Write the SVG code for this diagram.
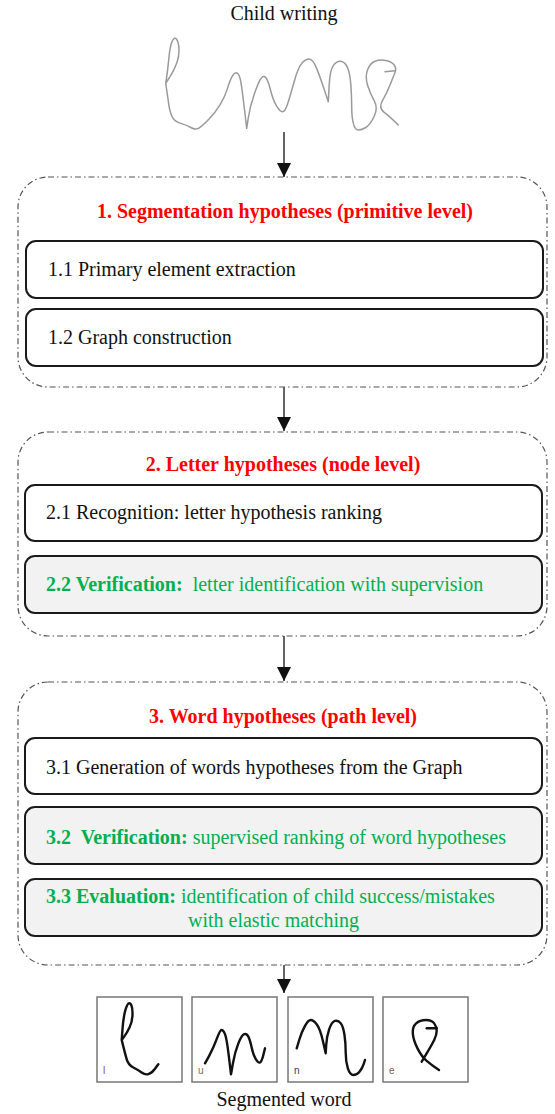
<svg xmlns="http://www.w3.org/2000/svg" width="555" height="1114" viewBox="0 0 555 1114">
<style>
.t{font-family:"Liberation Serif","Times New Roman",serif;font-size:20px;fill:#111}
.title{font-family:"Liberation Serif","Times New Roman",serif;font-size:20px;font-weight:bold;fill:#FF0000}
.g{font-family:"Liberation Serif","Times New Roman",serif;font-size:20px;fill:#00B050}
.gb{font-weight:bold}
.outer{fill:#fff;stroke:#555;stroke-width:1.2;stroke-dasharray:6 3 1.5 3}
.box{fill:#fff;stroke:#1a1a1a;stroke-width:2}
.gbox{fill:#F2F2F2;stroke:#1a1a1a;stroke-width:2}
.ink{fill:none;stroke:#9a9a9a;stroke-width:1.5;stroke-linejoin:round;stroke-linecap:round}
.lk{fill:none;stroke:#111;stroke-width:2.4;stroke-linejoin:round;stroke-linecap:round}
.lbox{fill:#fff;stroke:#777;stroke-width:1.5}
.lab{font-family:"Liberation Sans",Arial,sans-serif;font-size:10px}
.conn{stroke:#111;stroke-width:1.3;fill:none}
</style>
<defs>
<marker id="ah" markerUnits="userSpaceOnUse" markerWidth="14" markerHeight="14" refX="14" refY="7" orient="auto" viewBox="0 0 14 14">
<path d="M0,0 L14,7 L0,14 z" fill="#111"/>
</marker>
</defs>

<g id="child-writing">
<text class="t" x="284" y="20" text-anchor="middle">Child writing</text>
<path class="ink" d="M165.7,83.3 L166.7,76.65 Q167.7,70 168.85,58.35 Q170,46.7 171.65,42.5 Q173.3,38.3 175,38.3 Q176.7,38.3 177.85,41.65 Q179,45 179,50.85 Q179,56.7 177,62.35 Q175,68 172.5,72.35 Q170,76.7 167.85,80 L165.7,83.3 L166.7,90 Q167.7,96.7 168.85,104.85 Q170,113 172.5,117.35 Q175,121.7 180.85,123.35 Q186.7,125 190.85,127.5 Q195,130 198.35,128.35 Q201.7,126.7 208.35,119.85 Q215,113 220,104.85 Q225,96.7 227.5,88.35 Q230,80 232.5,75.85 Q235,71.7 237.5,73.35 Q240,75 241.5,85.85 Q243,96.7 244.85,112.5 L246.7,128.3 L248.35,117.5 Q250,106.7 254,95 Q258,83.3 260.5,79.15 Q263,75 265.5,77.35 Q268,80 270.5,90 Q273,100 276.5,105.85 Q280,111.7 282.5,111.7 Q285,111.7 287.5,104.2 Q290,96.7 294.15,81.7 Q298.3,66.7 302.5,62.5 Q306.7,58.3 310,59.15 Q313.3,60 316.65,68.35 Q320,76.7 324.15,89.2 L328.3,101.7 L329.15,85.85 Q330,70 333.35,65.35 Q336.7,60.7 340.85,61.2 Q345,61.7 347.5,67.5 Q350,73.3 350.85,85 Q351.7,96.7 351.7,106.7 Q351.7,116.7 353.35,123.35 Q355,130 358.35,130 Q361.7,130 365.85,127.5 Q370,125 374.15,116.5 Q378.3,108 374.15,100.65 Q370,93.3 367.5,85 Q365,76.7 367.5,70 Q370,63.3 375,61.3 Q380,59.3 385.85,60.5 Q391.7,61.7 394.2,65 Q396.7,68.3 395,72.5 Q393.3,76.7 390,85 Q386.7,93.3 382.5,100.65 Q378.3,108 384.15,112.35 Q390,116.7 398.3,125"/>
<path class="ink" d="M385,71.7 L395,70.7"/>
</g>

<g id="connectors">
<line class="conn" x1="284" y1="132" x2="284" y2="177" marker-end="url(#ah)"/>
<line class="conn" x1="284" y1="387" x2="284" y2="431" marker-end="url(#ah)"/>
<line class="conn" x1="284" y1="636" x2="284" y2="681" marker-end="url(#ah)"/>
<line class="conn" x1="284" y1="965" x2="284" y2="993" marker-end="url(#ah)"/>
</g>

<g id="group1">
<rect class="outer" x="18" y="177" width="529" height="210" rx="30"/>
<text class="title" x="285" y="218" text-anchor="middle">1. Segmentation hypotheses (primitive level)</text>
</g>
<g id="node-1-1">
<rect class="box" x="26" y="241" width="517" height="57" rx="10"/>
<text class="t" x="48" y="276">1.1 Primary element extraction</text>
</g>
<g id="node-1-2">
<rect class="box" x="26" y="309" width="517" height="57" rx="10"/>
<text class="t" x="48" y="344">1.2 Graph construction</text>
</g>

<g id="group2">
<rect class="outer" x="18" y="432" width="529" height="204" rx="30"/>
<text class="title" x="283" y="471" text-anchor="middle">2. Letter hypotheses (node level)</text>
</g>
<g id="node-2-1">
<rect class="box" x="25" y="485" width="517" height="56" rx="10"/>
<text class="t" x="46" y="519">2.1 Recognition: letter hypothesis ranking</text>
</g>
<g id="node-2-2">
<rect class="gbox" x="25" y="556" width="517" height="57" rx="10"/>
<text class="g" x="46" y="591" xml:space="preserve"><tspan class="gb">2.2 Verification:</tspan>  letter identification with supervision</text>
</g>

<g id="group3">
<rect class="outer" x="18" y="682" width="529" height="283" rx="30"/>
<text class="title" x="283" y="723" text-anchor="middle">3. Word hypotheses (path level)</text>
</g>
<g id="node-3-1">
<rect class="box" x="25" y="738" width="517" height="56" rx="10"/>
<text class="t" x="46" y="774">3.1 Generation of words hypotheses from the Graph</text>
</g>
<g id="node-3-2">
<rect class="gbox" x="25" y="807" width="517" height="57" rx="10"/>
<text class="g" x="46" y="844" xml:space="preserve"><tspan class="gb">3.2  Verification:</tspan> supervised ranking of word hypotheses</text>
</g>
<g id="node-3-3">
<rect class="gbox" x="25" y="879" width="517" height="57" rx="10"/>
<text class="g" x="46" y="903"><tspan class="gb">3.3 Evaluation:</tspan> identification of child success/mistakes</text>
<text class="g" x="188" y="927">with elastic matching</text>
</g>

<g id="segmented-word">
<rect class="lbox" x="97" y="997" width="85" height="85"/>
<path class="lk" d="M121.7,1040 L122.5,1029.15 Q123.3,1018.3 125,1011.65 Q126.7,1005 128.35,1003.65 Q130,1002.3 131.35,1005.3 Q132.7,1008.3 132.5,1015 Q132.3,1021.7 129.5,1027.5 Q126.7,1033.3 124.2,1036.65 L121.7,1040 L123.35,1046.65 Q125,1053.3 126.65,1059.15 Q128.3,1065 133.3,1067.5 Q138.3,1070 141.65,1072.5 Q145,1075 148.35,1074.15 Q151.7,1073.3 155,1068.8 L158.3,1064.3"/>
<text class="lab" x="103" y="1074" fill="#8040a0">l</text>
<rect class="lbox" x="192" y="997" width="85" height="85"/>
<path class="lk" d="M205,1063.3 L209.15,1055.8 Q213.3,1048.3 216.65,1039.15 Q220,1030 221.65,1030 Q223.3,1030 225,1034.15 Q226.7,1038.3 228.85,1056.3 L231,1074.3 L233,1063 Q235,1051.7 238.35,1043.35 Q241.7,1035 244.2,1034.15 Q246.7,1033.3 248.35,1036.65 Q250,1040 251.65,1047.5 Q253.3,1055 255.8,1059.15 Q258.3,1063.3 260,1062.5 Q261.7,1061.7 263.35,1055 L265,1048.3"/>
<text class="lab" x="198" y="1074" fill="#7a6a5a">u</text>
<rect class="lbox" x="288" y="997" width="85" height="85"/>
<path class="lk" d="M296.7,1048.3 L299.2,1040 Q301.7,1031.7 305,1025.85 Q308.3,1020 310.8,1020 Q313.3,1020 316.65,1024.15 Q320,1028.3 322.85,1040.8 L325.7,1053.3 L326.2,1045 Q326.7,1036.7 329.2,1029.2 Q331.7,1021.7 335,1020.85 Q338.3,1020 340.8,1023.35 Q343.3,1026.7 344.5,1035 Q345.7,1043.3 345.7,1052.5 Q345.7,1061.7 347.85,1068.35 Q350,1075 353.35,1075 Q356.7,1075 359.5,1071.65 Q362.3,1068.3 363.65,1064.15 L365,1060"/>
<text class="lab" x="294" y="1074" fill="#3a3a5a">n</text>
<rect class="lbox" x="383" y="997" width="85" height="85"/>
<path class="lk" d="M421.7,1061.7 L426.7,1053.35 Q431.7,1045 434.2,1040 Q436.7,1035 436.7,1030.85 Q436.7,1026.7 434.2,1023.35 Q431.7,1020 425.85,1020 Q420,1020 416.15,1023.35 Q412.3,1026.7 412.8,1033.35 Q413.3,1040 417.5,1048.35 Q421.7,1056.7 426.7,1060.85 Q431.7,1065 435.35,1067.5 L439,1070"/>
<path class="lk" d="M426.7,1028.3 L436.7,1028.3"/>
<text class="lab" x="389" y="1074" fill="#7a6040">e</text>
<text class="t" x="284" y="1106" text-anchor="middle">Segmented word</text>
</g>
</svg>
